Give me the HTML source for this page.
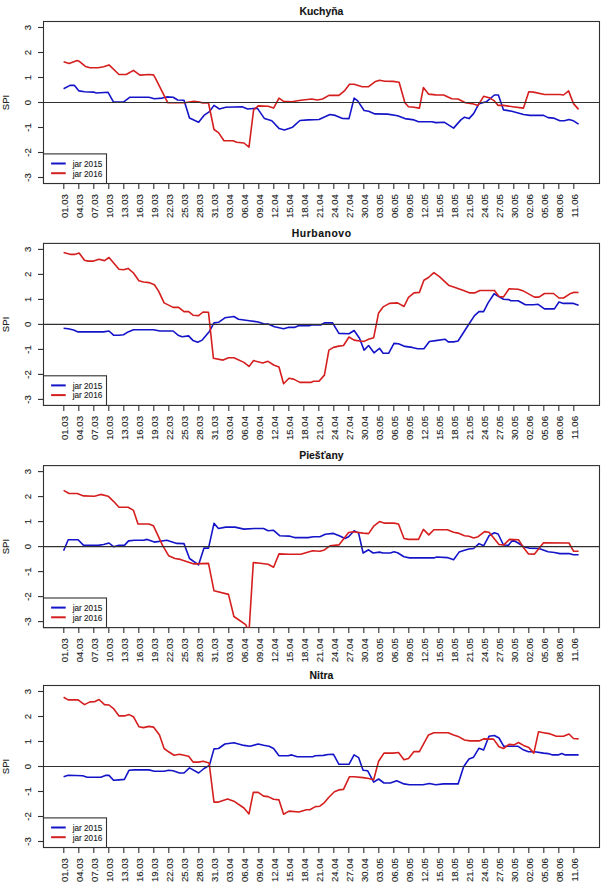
<!DOCTYPE html>
<html><head><meta charset="utf-8"><style>
html,body{margin:0;padding:0;background:#fff;width:607px;height:892px;overflow:hidden}
svg{display:block}
text{font-family:"Liberation Sans",sans-serif;fill:#222;stroke:#222;stroke-width:0.12px}
.t{font-size:10.4px;font-weight:bold;text-anchor:middle;fill:#111}
.a{font-size:9.6px}
.l{font-size:8.2px}
</style></head><body>
<svg width="607" height="892" viewBox="0 0 607 892"><rect width="607" height="892" fill="#fff"/><g><text x="321.4" y="14.5" class="t">Kuchyňa</text><rect x="43.5" y="21.5" width="556.0" height="162" fill="none" stroke="#303030" stroke-width="1.1"/><line x1="38" y1="27.5" x2="43.5" y2="27.5" stroke="#303030" stroke-width="1.1"/><text transform="translate(31.3,27.5) rotate(-90)" class="a" text-anchor="middle">3</text><line x1="38" y1="52.5" x2="43.5" y2="52.5" stroke="#303030" stroke-width="1.1"/><text transform="translate(31.3,52.5) rotate(-90)" class="a" text-anchor="middle">2</text><line x1="38" y1="77.5" x2="43.5" y2="77.5" stroke="#303030" stroke-width="1.1"/><text transform="translate(31.3,77.5) rotate(-90)" class="a" text-anchor="middle">1</text><line x1="38" y1="102.5" x2="43.5" y2="102.5" stroke="#303030" stroke-width="1.1"/><text transform="translate(31.3,102.5) rotate(-90)" class="a" text-anchor="middle">0</text><line x1="38" y1="127.5" x2="43.5" y2="127.5" stroke="#303030" stroke-width="1.1"/><text transform="translate(31.3,127.5) rotate(-90)" class="a" text-anchor="middle">-1</text><line x1="38" y1="152.5" x2="43.5" y2="152.5" stroke="#303030" stroke-width="1.1"/><text transform="translate(31.3,152.5) rotate(-90)" class="a" text-anchor="middle">-2</text><line x1="38" y1="177.5" x2="43.5" y2="177.5" stroke="#303030" stroke-width="1.1"/><text transform="translate(31.3,177.5) rotate(-90)" class="a" text-anchor="middle">-3</text><text transform="translate(9.2,102.5) rotate(-90)" class="a" text-anchor="middle">SPI</text><line x1="63.8" y1="183.5" x2="63.8" y2="189.0" stroke="#303030" stroke-width="1.1"/><text transform="translate(68.1,194.1) rotate(-90)" class="a" text-anchor="end">01.03</text><line x1="78.8" y1="183.5" x2="78.8" y2="189.0" stroke="#303030" stroke-width="1.1"/><text transform="translate(83.1,194.1) rotate(-90)" class="a" text-anchor="end">04.03</text><line x1="93.8" y1="183.5" x2="93.8" y2="189.0" stroke="#303030" stroke-width="1.1"/><text transform="translate(98.1,194.1) rotate(-90)" class="a" text-anchor="end">07.03</text><line x1="108.8" y1="183.5" x2="108.8" y2="189.0" stroke="#303030" stroke-width="1.1"/><text transform="translate(113.1,194.1) rotate(-90)" class="a" text-anchor="end">10.03</text><line x1="123.8" y1="183.5" x2="123.8" y2="189.0" stroke="#303030" stroke-width="1.1"/><text transform="translate(128.1,194.1) rotate(-90)" class="a" text-anchor="end">13.03</text><line x1="138.8" y1="183.5" x2="138.8" y2="189.0" stroke="#303030" stroke-width="1.1"/><text transform="translate(143.1,194.1) rotate(-90)" class="a" text-anchor="end">16.03</text><line x1="153.8" y1="183.5" x2="153.8" y2="189.0" stroke="#303030" stroke-width="1.1"/><text transform="translate(158.1,194.1) rotate(-90)" class="a" text-anchor="end">19.03</text><line x1="168.8" y1="183.5" x2="168.8" y2="189.0" stroke="#303030" stroke-width="1.1"/><text transform="translate(173.1,194.1) rotate(-90)" class="a" text-anchor="end">22.03</text><line x1="183.8" y1="183.5" x2="183.8" y2="189.0" stroke="#303030" stroke-width="1.1"/><text transform="translate(188.1,194.1) rotate(-90)" class="a" text-anchor="end">25.03</text><line x1="198.8" y1="183.5" x2="198.8" y2="189.0" stroke="#303030" stroke-width="1.1"/><text transform="translate(203.1,194.1) rotate(-90)" class="a" text-anchor="end">28.03</text><line x1="213.8" y1="183.5" x2="213.8" y2="189.0" stroke="#303030" stroke-width="1.1"/><text transform="translate(218.1,194.1) rotate(-90)" class="a" text-anchor="end">31.03</text><line x1="228.8" y1="183.5" x2="228.8" y2="189.0" stroke="#303030" stroke-width="1.1"/><text transform="translate(233.1,194.1) rotate(-90)" class="a" text-anchor="end">03.04</text><line x1="243.8" y1="183.5" x2="243.8" y2="189.0" stroke="#303030" stroke-width="1.1"/><text transform="translate(248.1,194.1) rotate(-90)" class="a" text-anchor="end">06.04</text><line x1="258.8" y1="183.5" x2="258.8" y2="189.0" stroke="#303030" stroke-width="1.1"/><text transform="translate(263.1,194.1) rotate(-90)" class="a" text-anchor="end">09.04</text><line x1="273.8" y1="183.5" x2="273.8" y2="189.0" stroke="#303030" stroke-width="1.1"/><text transform="translate(278.1,194.1) rotate(-90)" class="a" text-anchor="end">12.04</text><line x1="288.8" y1="183.5" x2="288.8" y2="189.0" stroke="#303030" stroke-width="1.1"/><text transform="translate(293.1,194.1) rotate(-90)" class="a" text-anchor="end">15.04</text><line x1="303.8" y1="183.5" x2="303.8" y2="189.0" stroke="#303030" stroke-width="1.1"/><text transform="translate(308.1,194.1) rotate(-90)" class="a" text-anchor="end">18.04</text><line x1="318.8" y1="183.5" x2="318.8" y2="189.0" stroke="#303030" stroke-width="1.1"/><text transform="translate(323.1,194.1) rotate(-90)" class="a" text-anchor="end">21.04</text><line x1="333.8" y1="183.5" x2="333.8" y2="189.0" stroke="#303030" stroke-width="1.1"/><text transform="translate(338.1,194.1) rotate(-90)" class="a" text-anchor="end">24.04</text><line x1="348.8" y1="183.5" x2="348.8" y2="189.0" stroke="#303030" stroke-width="1.1"/><text transform="translate(353.1,194.1) rotate(-90)" class="a" text-anchor="end">27.04</text><line x1="363.8" y1="183.5" x2="363.8" y2="189.0" stroke="#303030" stroke-width="1.1"/><text transform="translate(368.1,194.1) rotate(-90)" class="a" text-anchor="end">30.04</text><line x1="378.8" y1="183.5" x2="378.8" y2="189.0" stroke="#303030" stroke-width="1.1"/><text transform="translate(383.1,194.1) rotate(-90)" class="a" text-anchor="end">03.05</text><line x1="393.8" y1="183.5" x2="393.8" y2="189.0" stroke="#303030" stroke-width="1.1"/><text transform="translate(398.1,194.1) rotate(-90)" class="a" text-anchor="end">06.05</text><line x1="408.8" y1="183.5" x2="408.8" y2="189.0" stroke="#303030" stroke-width="1.1"/><text transform="translate(413.1,194.1) rotate(-90)" class="a" text-anchor="end">09.05</text><line x1="423.8" y1="183.5" x2="423.8" y2="189.0" stroke="#303030" stroke-width="1.1"/><text transform="translate(428.1,194.1) rotate(-90)" class="a" text-anchor="end">12.05</text><line x1="438.8" y1="183.5" x2="438.8" y2="189.0" stroke="#303030" stroke-width="1.1"/><text transform="translate(443.1,194.1) rotate(-90)" class="a" text-anchor="end">15.05</text><line x1="453.8" y1="183.5" x2="453.8" y2="189.0" stroke="#303030" stroke-width="1.1"/><text transform="translate(458.1,194.1) rotate(-90)" class="a" text-anchor="end">18.05</text><line x1="468.8" y1="183.5" x2="468.8" y2="189.0" stroke="#303030" stroke-width="1.1"/><text transform="translate(473.1,194.1) rotate(-90)" class="a" text-anchor="end">21.05</text><line x1="483.8" y1="183.5" x2="483.8" y2="189.0" stroke="#303030" stroke-width="1.1"/><text transform="translate(488.1,194.1) rotate(-90)" class="a" text-anchor="end">24.05</text><line x1="498.8" y1="183.5" x2="498.8" y2="189.0" stroke="#303030" stroke-width="1.1"/><text transform="translate(503.1,194.1) rotate(-90)" class="a" text-anchor="end">27.05</text><line x1="513.8" y1="183.5" x2="513.8" y2="189.0" stroke="#303030" stroke-width="1.1"/><text transform="translate(518.1,194.1) rotate(-90)" class="a" text-anchor="end">30.05</text><line x1="528.8" y1="183.5" x2="528.8" y2="189.0" stroke="#303030" stroke-width="1.1"/><text transform="translate(533.1,194.1) rotate(-90)" class="a" text-anchor="end">02.06</text><line x1="543.8" y1="183.5" x2="543.8" y2="189.0" stroke="#303030" stroke-width="1.1"/><text transform="translate(548.1,194.1) rotate(-90)" class="a" text-anchor="end">05.06</text><line x1="558.8" y1="183.5" x2="558.8" y2="189.0" stroke="#303030" stroke-width="1.1"/><text transform="translate(563.1,194.1) rotate(-90)" class="a" text-anchor="end">08.06</text><line x1="573.8" y1="183.5" x2="573.8" y2="189.0" stroke="#303030" stroke-width="1.1"/><text transform="translate(578.1,194.1) rotate(-90)" class="a" text-anchor="end">11.06</text><clipPath id="c0"><rect x="43.5" y="21.5" width="556.0" height="162"/></clipPath><polyline clip-path="url(#c0)" points="63.6,88.7 70.0,85.4 74.5,85.4 79.0,90.9 84.5,91.8 93.6,92.1 96.3,93.0 108.1,92.3 113.5,102.1 123.5,102.1 129.9,97.2 148.9,97.2 154.4,98.7 162.3,98.1 166.8,96.9 173.1,97.2 177.7,100.0 184.0,100.3 189.5,118.1 198.6,122.3 204.0,115.4 209.4,111.7 214.0,105.4 219.4,109.0 225.8,107.2 242.1,106.8 247.6,109.0 257.3,108.1 264.5,118.6 271.8,120.8 279.0,128.4 284.5,129.9 292.6,127.2 299.9,120.5 308.1,119.9 319.0,119.5 329.9,114.5 335.3,115.4 342.6,118.5 349.0,118.6 354.1,98.1 357.7,100.9 364.1,110.5 368.6,111.2 374.9,113.9 387.6,114.1 397.6,115.7 404.9,118.6 414.0,119.9 418.5,121.7 432.1,121.7 435.7,122.6 444.5,122.3 453.6,128.1 460.9,119.9 464.5,117.2 469.0,118.6 473.6,113.6 479.0,103.6 486.3,101.8 494.4,95.0 498.4,95.0 503.5,109.9 511.8,111.2 523.6,114.5 529.9,115.4 543.6,115.4 548.1,117.6 553.5,118.1 559.9,120.8 564.4,120.8 569.0,119.5 573.5,120.8 578.6,124.1" fill="none" stroke="#1414c8" stroke-width="1.6" stroke-linejoin="round"/><polyline clip-path="url(#c0)" points="63.6,61.8 69.1,63.6 77.2,60.6 79.0,61.2 85.4,66.4 90.0,67.8 98.1,67.8 103.6,66.7 109.0,64.9 119.0,74.5 126.2,74.5 133.5,70.4 139.9,75.1 148.9,74.5 153.5,74.9 155.0,77.3 167.7,102.7 185.0,102.7 194.0,101.2 199.5,102.1 203.1,103.0 208.5,103.0 214.0,129.5 218.5,132.6 224.0,140.8 233.0,140.8 236.7,142.2 243.9,143.0 249.0,147.1 253.6,109.9 258.2,105.9 268.1,106.3 273.6,108.1 279.0,98.1 283.6,101.4 291.7,101.8 300.8,100.3 311.7,99.0 317.2,100.0 322.6,99.0 328.9,95.4 338.9,95.4 344.4,90.9 349.5,84.3 354.1,84.2 362.2,86.7 368.6,86.7 374.9,81.8 379.5,80.3 384.9,81.3 393.1,81.4 399.1,82.3 404.9,102.7 408.5,106.7 414.0,107.2 419.4,108.1 423.4,87.6 428.5,94.1 435.7,94.9 443.6,95.0 451.8,98.7 458.1,99.0 465.4,102.7 471.8,103.6 478.1,105.4 483.6,96.3 489.9,98.1 494.4,100.9 498.1,105.4 503.5,105.4 512.6,106.7 523.5,108.1 528.8,91.8 533.5,92.1 544.5,94.5 559.9,94.5 563.5,95.0 568.6,90.9 573.5,103.6 578.6,109.4" fill="none" stroke="#d51e1e" stroke-width="1.6" stroke-linejoin="round"/><line x1="43.5" y1="102.5" x2="599.5" y2="102.5" stroke="#303030" stroke-width="1.1"/><rect x="43.5" y="153.9" width="63" height="29.6" fill="#fff" stroke="#303030" stroke-width="1.1"/><line x1="51.1" y1="163.5" x2="65.7" y2="163.5" stroke="#1414c8" stroke-width="2"/><line x1="51.1" y1="173.2" x2="65.7" y2="173.2" stroke="#d51e1e" stroke-width="2"/><text x="72.7" y="166.8" class="l">jar 2015</text><text x="72.7" y="176.5" class="l">jar 2016</text></g><g><text x="321.66999999999996" y="237.0" class="t" letter-spacing="0.55">Hurbanovo</text><rect x="43.5" y="243.4" width="556.0" height="162" fill="none" stroke="#303030" stroke-width="1.1"/><line x1="38" y1="249.4" x2="43.5" y2="249.4" stroke="#303030" stroke-width="1.1"/><text transform="translate(31.3,249.4) rotate(-90)" class="a" text-anchor="middle">3</text><line x1="38" y1="274.4" x2="43.5" y2="274.4" stroke="#303030" stroke-width="1.1"/><text transform="translate(31.3,274.4) rotate(-90)" class="a" text-anchor="middle">2</text><line x1="38" y1="299.4" x2="43.5" y2="299.4" stroke="#303030" stroke-width="1.1"/><text transform="translate(31.3,299.4) rotate(-90)" class="a" text-anchor="middle">1</text><line x1="38" y1="324.4" x2="43.5" y2="324.4" stroke="#303030" stroke-width="1.1"/><text transform="translate(31.3,324.4) rotate(-90)" class="a" text-anchor="middle">0</text><line x1="38" y1="349.4" x2="43.5" y2="349.4" stroke="#303030" stroke-width="1.1"/><text transform="translate(31.3,349.4) rotate(-90)" class="a" text-anchor="middle">-1</text><line x1="38" y1="374.4" x2="43.5" y2="374.4" stroke="#303030" stroke-width="1.1"/><text transform="translate(31.3,374.4) rotate(-90)" class="a" text-anchor="middle">-2</text><line x1="38" y1="399.4" x2="43.5" y2="399.4" stroke="#303030" stroke-width="1.1"/><text transform="translate(31.3,399.4) rotate(-90)" class="a" text-anchor="middle">-3</text><text transform="translate(9.2,324.4) rotate(-90)" class="a" text-anchor="middle">SPI</text><line x1="63.8" y1="405.4" x2="63.8" y2="410.9" stroke="#303030" stroke-width="1.1"/><text transform="translate(68.1,416.0) rotate(-90)" class="a" text-anchor="end">01.03</text><line x1="78.8" y1="405.4" x2="78.8" y2="410.9" stroke="#303030" stroke-width="1.1"/><text transform="translate(83.1,416.0) rotate(-90)" class="a" text-anchor="end">04.03</text><line x1="93.8" y1="405.4" x2="93.8" y2="410.9" stroke="#303030" stroke-width="1.1"/><text transform="translate(98.1,416.0) rotate(-90)" class="a" text-anchor="end">07.03</text><line x1="108.8" y1="405.4" x2="108.8" y2="410.9" stroke="#303030" stroke-width="1.1"/><text transform="translate(113.1,416.0) rotate(-90)" class="a" text-anchor="end">10.03</text><line x1="123.8" y1="405.4" x2="123.8" y2="410.9" stroke="#303030" stroke-width="1.1"/><text transform="translate(128.1,416.0) rotate(-90)" class="a" text-anchor="end">13.03</text><line x1="138.8" y1="405.4" x2="138.8" y2="410.9" stroke="#303030" stroke-width="1.1"/><text transform="translate(143.1,416.0) rotate(-90)" class="a" text-anchor="end">16.03</text><line x1="153.8" y1="405.4" x2="153.8" y2="410.9" stroke="#303030" stroke-width="1.1"/><text transform="translate(158.1,416.0) rotate(-90)" class="a" text-anchor="end">19.03</text><line x1="168.8" y1="405.4" x2="168.8" y2="410.9" stroke="#303030" stroke-width="1.1"/><text transform="translate(173.1,416.0) rotate(-90)" class="a" text-anchor="end">22.03</text><line x1="183.8" y1="405.4" x2="183.8" y2="410.9" stroke="#303030" stroke-width="1.1"/><text transform="translate(188.1,416.0) rotate(-90)" class="a" text-anchor="end">25.03</text><line x1="198.8" y1="405.4" x2="198.8" y2="410.9" stroke="#303030" stroke-width="1.1"/><text transform="translate(203.1,416.0) rotate(-90)" class="a" text-anchor="end">28.03</text><line x1="213.8" y1="405.4" x2="213.8" y2="410.9" stroke="#303030" stroke-width="1.1"/><text transform="translate(218.1,416.0) rotate(-90)" class="a" text-anchor="end">31.03</text><line x1="228.8" y1="405.4" x2="228.8" y2="410.9" stroke="#303030" stroke-width="1.1"/><text transform="translate(233.1,416.0) rotate(-90)" class="a" text-anchor="end">03.04</text><line x1="243.8" y1="405.4" x2="243.8" y2="410.9" stroke="#303030" stroke-width="1.1"/><text transform="translate(248.1,416.0) rotate(-90)" class="a" text-anchor="end">06.04</text><line x1="258.8" y1="405.4" x2="258.8" y2="410.9" stroke="#303030" stroke-width="1.1"/><text transform="translate(263.1,416.0) rotate(-90)" class="a" text-anchor="end">09.04</text><line x1="273.8" y1="405.4" x2="273.8" y2="410.9" stroke="#303030" stroke-width="1.1"/><text transform="translate(278.1,416.0) rotate(-90)" class="a" text-anchor="end">12.04</text><line x1="288.8" y1="405.4" x2="288.8" y2="410.9" stroke="#303030" stroke-width="1.1"/><text transform="translate(293.1,416.0) rotate(-90)" class="a" text-anchor="end">15.04</text><line x1="303.8" y1="405.4" x2="303.8" y2="410.9" stroke="#303030" stroke-width="1.1"/><text transform="translate(308.1,416.0) rotate(-90)" class="a" text-anchor="end">18.04</text><line x1="318.8" y1="405.4" x2="318.8" y2="410.9" stroke="#303030" stroke-width="1.1"/><text transform="translate(323.1,416.0) rotate(-90)" class="a" text-anchor="end">21.04</text><line x1="333.8" y1="405.4" x2="333.8" y2="410.9" stroke="#303030" stroke-width="1.1"/><text transform="translate(338.1,416.0) rotate(-90)" class="a" text-anchor="end">24.04</text><line x1="348.8" y1="405.4" x2="348.8" y2="410.9" stroke="#303030" stroke-width="1.1"/><text transform="translate(353.1,416.0) rotate(-90)" class="a" text-anchor="end">27.04</text><line x1="363.8" y1="405.4" x2="363.8" y2="410.9" stroke="#303030" stroke-width="1.1"/><text transform="translate(368.1,416.0) rotate(-90)" class="a" text-anchor="end">30.04</text><line x1="378.8" y1="405.4" x2="378.8" y2="410.9" stroke="#303030" stroke-width="1.1"/><text transform="translate(383.1,416.0) rotate(-90)" class="a" text-anchor="end">03.05</text><line x1="393.8" y1="405.4" x2="393.8" y2="410.9" stroke="#303030" stroke-width="1.1"/><text transform="translate(398.1,416.0) rotate(-90)" class="a" text-anchor="end">06.05</text><line x1="408.8" y1="405.4" x2="408.8" y2="410.9" stroke="#303030" stroke-width="1.1"/><text transform="translate(413.1,416.0) rotate(-90)" class="a" text-anchor="end">09.05</text><line x1="423.8" y1="405.4" x2="423.8" y2="410.9" stroke="#303030" stroke-width="1.1"/><text transform="translate(428.1,416.0) rotate(-90)" class="a" text-anchor="end">12.05</text><line x1="438.8" y1="405.4" x2="438.8" y2="410.9" stroke="#303030" stroke-width="1.1"/><text transform="translate(443.1,416.0) rotate(-90)" class="a" text-anchor="end">15.05</text><line x1="453.8" y1="405.4" x2="453.8" y2="410.9" stroke="#303030" stroke-width="1.1"/><text transform="translate(458.1,416.0) rotate(-90)" class="a" text-anchor="end">18.05</text><line x1="468.8" y1="405.4" x2="468.8" y2="410.9" stroke="#303030" stroke-width="1.1"/><text transform="translate(473.1,416.0) rotate(-90)" class="a" text-anchor="end">21.05</text><line x1="483.8" y1="405.4" x2="483.8" y2="410.9" stroke="#303030" stroke-width="1.1"/><text transform="translate(488.1,416.0) rotate(-90)" class="a" text-anchor="end">24.05</text><line x1="498.8" y1="405.4" x2="498.8" y2="410.9" stroke="#303030" stroke-width="1.1"/><text transform="translate(503.1,416.0) rotate(-90)" class="a" text-anchor="end">27.05</text><line x1="513.8" y1="405.4" x2="513.8" y2="410.9" stroke="#303030" stroke-width="1.1"/><text transform="translate(518.1,416.0) rotate(-90)" class="a" text-anchor="end">30.05</text><line x1="528.8" y1="405.4" x2="528.8" y2="410.9" stroke="#303030" stroke-width="1.1"/><text transform="translate(533.1,416.0) rotate(-90)" class="a" text-anchor="end">02.06</text><line x1="543.8" y1="405.4" x2="543.8" y2="410.9" stroke="#303030" stroke-width="1.1"/><text transform="translate(548.1,416.0) rotate(-90)" class="a" text-anchor="end">05.06</text><line x1="558.8" y1="405.4" x2="558.8" y2="410.9" stroke="#303030" stroke-width="1.1"/><text transform="translate(563.1,416.0) rotate(-90)" class="a" text-anchor="end">08.06</text><line x1="573.8" y1="405.4" x2="573.8" y2="410.9" stroke="#303030" stroke-width="1.1"/><text transform="translate(578.1,416.0) rotate(-90)" class="a" text-anchor="end">11.06</text><clipPath id="c1"><rect x="43.5" y="243.4" width="556.0" height="162"/></clipPath><polyline clip-path="url(#c1)" points="63.6,328.3 68.2,328.7 73.6,330.1 78.1,331.9 103.6,331.9 109.0,331.0 113.5,335.2 119.0,335.2 123.5,334.7 128.1,331.9 133.5,329.8 153.5,329.8 160.0,331.0 173.1,331.0 178.6,335.6 182.2,336.8 188.6,335.9 193.1,340.6 197.6,342.3 202.2,340.1 209.4,331.4 214.0,322.9 218.5,322.3 224.9,317.8 233.9,316.5 238.5,319.2 249.4,320.7 258.2,322.0 263.6,323.8 268.1,324.1 274.5,326.8 283.6,328.7 288.1,327.4 294.5,327.4 299.0,325.6 309.0,325.6 312.6,324.7 320.8,325.0 324.4,322.9 332.6,322.9 338.9,333.4 349.0,333.7 354.1,330.5 359.5,338.3 364.1,350.1 368.6,345.5 374.0,352.8 379.5,348.3 383.1,353.3 388.6,353.3 394.0,343.4 398.5,343.7 404.9,346.4 412.2,347.4 417.6,348.8 423.9,348.8 429.4,341.5 435.7,340.6 445.0,339.2 448.2,341.9 453.6,341.9 458.1,341.0 467.2,326.8 474.5,315.6 479.0,311.6 483.6,311.6 488.1,302.9 494.1,293.8 503.5,299.3 509.0,299.6 510.8,300.7 518.1,300.7 525.4,304.7 533.6,304.7 538.1,304.3 544.5,308.9 554.4,308.9 559.0,302.0 563.5,303.4 573.5,303.4 578.6,305.3" fill="none" stroke="#1414c8" stroke-width="1.6" stroke-linejoin="round"/><polyline clip-path="url(#c1)" points="63.6,252.4 70.9,254.4 74.5,254.4 79.1,253.0 84.5,260.2 88.1,261.1 93.6,261.1 99.0,259.3 104.5,260.6 109.0,257.5 119.0,269.3 123.5,269.7 128.1,268.4 133.5,273.0 138.9,280.8 143.5,282.0 148.9,282.6 154.4,284.7 158.6,291.1 164.1,302.9 173.1,307.4 178.6,307.4 184.0,311.6 188.6,311.6 193.1,315.2 198.6,315.6 203.1,312.0 208.5,312.3 213.4,358.2 223.1,360.1 228.5,357.7 233.9,357.7 243.9,362.4 249.0,366.4 253.6,360.6 262.7,363.1 268.1,361.3 273.6,365.0 279.0,367.0 283.6,383.7 289.0,378.2 293.6,379.1 299.9,382.4 310.8,382.4 313.5,381.3 319.0,381.3 324.4,375.1 328.9,350.1 333.5,347.4 338.9,346.1 343.5,345.5 349.0,337.0 354.1,340.1 359.5,341.0 364.1,341.4 368.6,339.2 373.7,337.7 378.6,312.9 383.1,306.9 389.5,303.4 397.6,302.9 404.0,306.5 408.5,297.4 414.0,292.9 419.4,292.4 423.9,280.2 428.5,277.5 433.9,272.6 439.4,276.6 449.1,285.6 453.6,286.9 463.6,290.5 469.9,292.9 474.5,292.9 479.9,290.5 494.4,290.5 499.0,296.5 503.5,296.9 509.1,288.7 518.1,289.3 523.6,291.1 534.5,297.1 539.0,297.1 544.5,293.5 553.5,293.5 559.0,298.0 563.5,298.0 569.9,293.8 573.5,292.4 578.6,292.5" fill="none" stroke="#d51e1e" stroke-width="1.6" stroke-linejoin="round"/><line x1="43.5" y1="324.4" x2="599.5" y2="324.4" stroke="#303030" stroke-width="1.1"/><rect x="43.5" y="375.8" width="63" height="29.6" fill="#fff" stroke="#303030" stroke-width="1.1"/><line x1="51.1" y1="385.4" x2="65.7" y2="385.4" stroke="#1414c8" stroke-width="2"/><line x1="51.1" y1="395.1" x2="65.7" y2="395.1" stroke="#d51e1e" stroke-width="2"/><text x="72.7" y="388.7" class="l">jar 2015</text><text x="72.7" y="398.4" class="l">jar 2016</text></g><g><text x="321.4" y="458.5" class="t">Piešťany</text><rect x="43.5" y="465.6" width="556.0" height="162" fill="none" stroke="#303030" stroke-width="1.1"/><line x1="38" y1="471.6" x2="43.5" y2="471.6" stroke="#303030" stroke-width="1.1"/><text transform="translate(31.3,471.6) rotate(-90)" class="a" text-anchor="middle">3</text><line x1="38" y1="496.6" x2="43.5" y2="496.6" stroke="#303030" stroke-width="1.1"/><text transform="translate(31.3,496.6) rotate(-90)" class="a" text-anchor="middle">2</text><line x1="38" y1="521.6" x2="43.5" y2="521.6" stroke="#303030" stroke-width="1.1"/><text transform="translate(31.3,521.6) rotate(-90)" class="a" text-anchor="middle">1</text><line x1="38" y1="546.6" x2="43.5" y2="546.6" stroke="#303030" stroke-width="1.1"/><text transform="translate(31.3,546.6) rotate(-90)" class="a" text-anchor="middle">0</text><line x1="38" y1="571.6" x2="43.5" y2="571.6" stroke="#303030" stroke-width="1.1"/><text transform="translate(31.3,571.6) rotate(-90)" class="a" text-anchor="middle">-1</text><line x1="38" y1="596.6" x2="43.5" y2="596.6" stroke="#303030" stroke-width="1.1"/><text transform="translate(31.3,596.6) rotate(-90)" class="a" text-anchor="middle">-2</text><line x1="38" y1="621.6" x2="43.5" y2="621.6" stroke="#303030" stroke-width="1.1"/><text transform="translate(31.3,621.6) rotate(-90)" class="a" text-anchor="middle">-3</text><text transform="translate(9.2,546.6) rotate(-90)" class="a" text-anchor="middle">SPI</text><line x1="63.8" y1="627.6" x2="63.8" y2="633.1" stroke="#303030" stroke-width="1.1"/><text transform="translate(68.1,638.2) rotate(-90)" class="a" text-anchor="end">01.03</text><line x1="78.8" y1="627.6" x2="78.8" y2="633.1" stroke="#303030" stroke-width="1.1"/><text transform="translate(83.1,638.2) rotate(-90)" class="a" text-anchor="end">04.03</text><line x1="93.8" y1="627.6" x2="93.8" y2="633.1" stroke="#303030" stroke-width="1.1"/><text transform="translate(98.1,638.2) rotate(-90)" class="a" text-anchor="end">07.03</text><line x1="108.8" y1="627.6" x2="108.8" y2="633.1" stroke="#303030" stroke-width="1.1"/><text transform="translate(113.1,638.2) rotate(-90)" class="a" text-anchor="end">10.03</text><line x1="123.8" y1="627.6" x2="123.8" y2="633.1" stroke="#303030" stroke-width="1.1"/><text transform="translate(128.1,638.2) rotate(-90)" class="a" text-anchor="end">13.03</text><line x1="138.8" y1="627.6" x2="138.8" y2="633.1" stroke="#303030" stroke-width="1.1"/><text transform="translate(143.1,638.2) rotate(-90)" class="a" text-anchor="end">16.03</text><line x1="153.8" y1="627.6" x2="153.8" y2="633.1" stroke="#303030" stroke-width="1.1"/><text transform="translate(158.1,638.2) rotate(-90)" class="a" text-anchor="end">19.03</text><line x1="168.8" y1="627.6" x2="168.8" y2="633.1" stroke="#303030" stroke-width="1.1"/><text transform="translate(173.1,638.2) rotate(-90)" class="a" text-anchor="end">22.03</text><line x1="183.8" y1="627.6" x2="183.8" y2="633.1" stroke="#303030" stroke-width="1.1"/><text transform="translate(188.1,638.2) rotate(-90)" class="a" text-anchor="end">25.03</text><line x1="198.8" y1="627.6" x2="198.8" y2="633.1" stroke="#303030" stroke-width="1.1"/><text transform="translate(203.1,638.2) rotate(-90)" class="a" text-anchor="end">28.03</text><line x1="213.8" y1="627.6" x2="213.8" y2="633.1" stroke="#303030" stroke-width="1.1"/><text transform="translate(218.1,638.2) rotate(-90)" class="a" text-anchor="end">31.03</text><line x1="228.8" y1="627.6" x2="228.8" y2="633.1" stroke="#303030" stroke-width="1.1"/><text transform="translate(233.1,638.2) rotate(-90)" class="a" text-anchor="end">03.04</text><line x1="243.8" y1="627.6" x2="243.8" y2="633.1" stroke="#303030" stroke-width="1.1"/><text transform="translate(248.1,638.2) rotate(-90)" class="a" text-anchor="end">06.04</text><line x1="258.8" y1="627.6" x2="258.8" y2="633.1" stroke="#303030" stroke-width="1.1"/><text transform="translate(263.1,638.2) rotate(-90)" class="a" text-anchor="end">09.04</text><line x1="273.8" y1="627.6" x2="273.8" y2="633.1" stroke="#303030" stroke-width="1.1"/><text transform="translate(278.1,638.2) rotate(-90)" class="a" text-anchor="end">12.04</text><line x1="288.8" y1="627.6" x2="288.8" y2="633.1" stroke="#303030" stroke-width="1.1"/><text transform="translate(293.1,638.2) rotate(-90)" class="a" text-anchor="end">15.04</text><line x1="303.8" y1="627.6" x2="303.8" y2="633.1" stroke="#303030" stroke-width="1.1"/><text transform="translate(308.1,638.2) rotate(-90)" class="a" text-anchor="end">18.04</text><line x1="318.8" y1="627.6" x2="318.8" y2="633.1" stroke="#303030" stroke-width="1.1"/><text transform="translate(323.1,638.2) rotate(-90)" class="a" text-anchor="end">21.04</text><line x1="333.8" y1="627.6" x2="333.8" y2="633.1" stroke="#303030" stroke-width="1.1"/><text transform="translate(338.1,638.2) rotate(-90)" class="a" text-anchor="end">24.04</text><line x1="348.8" y1="627.6" x2="348.8" y2="633.1" stroke="#303030" stroke-width="1.1"/><text transform="translate(353.1,638.2) rotate(-90)" class="a" text-anchor="end">27.04</text><line x1="363.8" y1="627.6" x2="363.8" y2="633.1" stroke="#303030" stroke-width="1.1"/><text transform="translate(368.1,638.2) rotate(-90)" class="a" text-anchor="end">30.04</text><line x1="378.8" y1="627.6" x2="378.8" y2="633.1" stroke="#303030" stroke-width="1.1"/><text transform="translate(383.1,638.2) rotate(-90)" class="a" text-anchor="end">03.05</text><line x1="393.8" y1="627.6" x2="393.8" y2="633.1" stroke="#303030" stroke-width="1.1"/><text transform="translate(398.1,638.2) rotate(-90)" class="a" text-anchor="end">06.05</text><line x1="408.8" y1="627.6" x2="408.8" y2="633.1" stroke="#303030" stroke-width="1.1"/><text transform="translate(413.1,638.2) rotate(-90)" class="a" text-anchor="end">09.05</text><line x1="423.8" y1="627.6" x2="423.8" y2="633.1" stroke="#303030" stroke-width="1.1"/><text transform="translate(428.1,638.2) rotate(-90)" class="a" text-anchor="end">12.05</text><line x1="438.8" y1="627.6" x2="438.8" y2="633.1" stroke="#303030" stroke-width="1.1"/><text transform="translate(443.1,638.2) rotate(-90)" class="a" text-anchor="end">15.05</text><line x1="453.8" y1="627.6" x2="453.8" y2="633.1" stroke="#303030" stroke-width="1.1"/><text transform="translate(458.1,638.2) rotate(-90)" class="a" text-anchor="end">18.05</text><line x1="468.8" y1="627.6" x2="468.8" y2="633.1" stroke="#303030" stroke-width="1.1"/><text transform="translate(473.1,638.2) rotate(-90)" class="a" text-anchor="end">21.05</text><line x1="483.8" y1="627.6" x2="483.8" y2="633.1" stroke="#303030" stroke-width="1.1"/><text transform="translate(488.1,638.2) rotate(-90)" class="a" text-anchor="end">24.05</text><line x1="498.8" y1="627.6" x2="498.8" y2="633.1" stroke="#303030" stroke-width="1.1"/><text transform="translate(503.1,638.2) rotate(-90)" class="a" text-anchor="end">27.05</text><line x1="513.8" y1="627.6" x2="513.8" y2="633.1" stroke="#303030" stroke-width="1.1"/><text transform="translate(518.1,638.2) rotate(-90)" class="a" text-anchor="end">30.05</text><line x1="528.8" y1="627.6" x2="528.8" y2="633.1" stroke="#303030" stroke-width="1.1"/><text transform="translate(533.1,638.2) rotate(-90)" class="a" text-anchor="end">02.06</text><line x1="543.8" y1="627.6" x2="543.8" y2="633.1" stroke="#303030" stroke-width="1.1"/><text transform="translate(548.1,638.2) rotate(-90)" class="a" text-anchor="end">05.06</text><line x1="558.8" y1="627.6" x2="558.8" y2="633.1" stroke="#303030" stroke-width="1.1"/><text transform="translate(563.1,638.2) rotate(-90)" class="a" text-anchor="end">08.06</text><line x1="573.8" y1="627.6" x2="573.8" y2="633.1" stroke="#303030" stroke-width="1.1"/><text transform="translate(578.1,638.2) rotate(-90)" class="a" text-anchor="end">11.06</text><clipPath id="c2"><rect x="43.5" y="465.6" width="556.0" height="162"/></clipPath><polyline clip-path="url(#c2)" points="63.6,550.8 68.2,539.8 78.1,539.8 83.6,545.4 98.1,545.4 103.6,544.5 109.0,543.0 113.5,546.7 119.0,545.4 124.4,545.4 128.6,540.9 134.4,540.3 143.5,540.3 147.1,539.4 154.4,542.1 166.8,540.3 176.8,543.4 184.0,543.6 189.5,558.5 198.6,564.8 204.0,548.1 208.5,548.1 214.0,523.4 218.5,528.5 225.8,527.1 234.9,527.1 243.9,529.1 254.5,528.5 263.6,528.5 268.1,530.7 273.6,530.3 279.9,535.8 289.0,536.1 294.5,537.6 308.1,537.6 313.5,536.7 319.9,536.7 325.3,534.3 333.5,533.4 339.8,536.1 345.0,538.5 348.6,536.7 354.1,530.7 358.6,533.1 363.1,553.0 368.6,549.8 373.1,553.0 379.5,552.1 383.1,553.0 390.4,553.0 394.0,551.8 397.6,552.7 404.0,556.7 409.4,557.9 433.9,557.9 436.7,557.0 447.3,557.6 453.6,559.7 459.1,552.1 464.5,550.3 469.0,549.0 473.6,548.5 479.0,543.6 483.6,545.8 489.0,535.8 494.4,532.7 498.1,534.0 503.5,545.0 508.4,545.3 512.7,540.0 518.1,543.0 523.6,546.7 529.0,548.1 539.0,548.5 548.1,551.8 554.4,552.5 559.9,553.6 569.0,553.6 573.5,554.8 578.6,554.8" fill="none" stroke="#1414c8" stroke-width="1.6" stroke-linejoin="round"/><polyline clip-path="url(#c2)" points="63.6,490.4 69.1,493.5 77.2,493.5 83.6,495.9 94.5,496.2 100.8,494.4 108.1,496.2 113.5,501.3 119.0,507.3 128.1,507.3 133.5,510.4 138.0,524.0 148.9,524.0 153.5,525.8 162.3,544.9 168.6,555.7 175.0,558.5 180.4,559.4 194.0,563.9 208.5,563.4 214.0,590.8 228.5,594.4 233.9,616.5 245.7,624.7 249.0,632.0 253.3,562.6 258.2,563.0 268.1,564.3 273.6,567.2 279.0,553.9 289.0,554.3 300.8,554.3 312.6,550.7 319.9,551.2 324.4,549.9 329.9,545.8 338.9,544.9 348.6,532.5 353.2,531.8 363.1,533.1 368.6,533.6 374.0,525.8 379.5,521.6 384.0,523.1 394.0,523.1 398.5,524.0 404.0,538.5 408.5,539.4 418.5,539.4 423.4,529.4 428.8,534.9 433.9,529.8 447.3,529.8 453.6,532.2 458.1,533.1 464.5,535.8 469.0,536.3 473.6,538.0 478.1,536.7 484.5,531.6 489.0,532.2 499.0,544.5 503.8,544.9 509.5,539.4 518.5,539.8 523.5,547.6 528.5,553.9 534.5,554.1 543.6,542.7 569.0,543.0 573.5,551.2 578.6,551.2" fill="none" stroke="#d51e1e" stroke-width="1.6" stroke-linejoin="round"/><line x1="43.5" y1="546.6" x2="599.5" y2="546.6" stroke="#303030" stroke-width="1.1"/><rect x="43.5" y="598.0" width="63" height="29.6" fill="#fff" stroke="#303030" stroke-width="1.1"/><line x1="51.1" y1="607.6" x2="65.7" y2="607.6" stroke="#1414c8" stroke-width="2"/><line x1="51.1" y1="617.3" x2="65.7" y2="617.3" stroke="#d51e1e" stroke-width="2"/><text x="72.7" y="610.9" class="l">jar 2015</text><text x="72.7" y="620.6" class="l">jar 2016</text></g><g><text x="321.4" y="679.0" class="t">Nitra</text><rect x="43.5" y="685.5" width="556.0" height="162" fill="none" stroke="#303030" stroke-width="1.1"/><line x1="38" y1="691.5" x2="43.5" y2="691.5" stroke="#303030" stroke-width="1.1"/><text transform="translate(31.3,691.5) rotate(-90)" class="a" text-anchor="middle">3</text><line x1="38" y1="716.5" x2="43.5" y2="716.5" stroke="#303030" stroke-width="1.1"/><text transform="translate(31.3,716.5) rotate(-90)" class="a" text-anchor="middle">2</text><line x1="38" y1="741.5" x2="43.5" y2="741.5" stroke="#303030" stroke-width="1.1"/><text transform="translate(31.3,741.5) rotate(-90)" class="a" text-anchor="middle">1</text><line x1="38" y1="766.5" x2="43.5" y2="766.5" stroke="#303030" stroke-width="1.1"/><text transform="translate(31.3,766.5) rotate(-90)" class="a" text-anchor="middle">0</text><line x1="38" y1="791.5" x2="43.5" y2="791.5" stroke="#303030" stroke-width="1.1"/><text transform="translate(31.3,791.5) rotate(-90)" class="a" text-anchor="middle">-1</text><line x1="38" y1="816.5" x2="43.5" y2="816.5" stroke="#303030" stroke-width="1.1"/><text transform="translate(31.3,816.5) rotate(-90)" class="a" text-anchor="middle">-2</text><line x1="38" y1="841.5" x2="43.5" y2="841.5" stroke="#303030" stroke-width="1.1"/><text transform="translate(31.3,841.5) rotate(-90)" class="a" text-anchor="middle">-3</text><text transform="translate(9.2,766.5) rotate(-90)" class="a" text-anchor="middle">SPI</text><line x1="63.8" y1="847.5" x2="63.8" y2="853.0" stroke="#303030" stroke-width="1.1"/><text transform="translate(68.1,858.1) rotate(-90)" class="a" text-anchor="end">01.03</text><line x1="78.8" y1="847.5" x2="78.8" y2="853.0" stroke="#303030" stroke-width="1.1"/><text transform="translate(83.1,858.1) rotate(-90)" class="a" text-anchor="end">04.03</text><line x1="93.8" y1="847.5" x2="93.8" y2="853.0" stroke="#303030" stroke-width="1.1"/><text transform="translate(98.1,858.1) rotate(-90)" class="a" text-anchor="end">07.03</text><line x1="108.8" y1="847.5" x2="108.8" y2="853.0" stroke="#303030" stroke-width="1.1"/><text transform="translate(113.1,858.1) rotate(-90)" class="a" text-anchor="end">10.03</text><line x1="123.8" y1="847.5" x2="123.8" y2="853.0" stroke="#303030" stroke-width="1.1"/><text transform="translate(128.1,858.1) rotate(-90)" class="a" text-anchor="end">13.03</text><line x1="138.8" y1="847.5" x2="138.8" y2="853.0" stroke="#303030" stroke-width="1.1"/><text transform="translate(143.1,858.1) rotate(-90)" class="a" text-anchor="end">16.03</text><line x1="153.8" y1="847.5" x2="153.8" y2="853.0" stroke="#303030" stroke-width="1.1"/><text transform="translate(158.1,858.1) rotate(-90)" class="a" text-anchor="end">19.03</text><line x1="168.8" y1="847.5" x2="168.8" y2="853.0" stroke="#303030" stroke-width="1.1"/><text transform="translate(173.1,858.1) rotate(-90)" class="a" text-anchor="end">22.03</text><line x1="183.8" y1="847.5" x2="183.8" y2="853.0" stroke="#303030" stroke-width="1.1"/><text transform="translate(188.1,858.1) rotate(-90)" class="a" text-anchor="end">25.03</text><line x1="198.8" y1="847.5" x2="198.8" y2="853.0" stroke="#303030" stroke-width="1.1"/><text transform="translate(203.1,858.1) rotate(-90)" class="a" text-anchor="end">28.03</text><line x1="213.8" y1="847.5" x2="213.8" y2="853.0" stroke="#303030" stroke-width="1.1"/><text transform="translate(218.1,858.1) rotate(-90)" class="a" text-anchor="end">31.03</text><line x1="228.8" y1="847.5" x2="228.8" y2="853.0" stroke="#303030" stroke-width="1.1"/><text transform="translate(233.1,858.1) rotate(-90)" class="a" text-anchor="end">03.04</text><line x1="243.8" y1="847.5" x2="243.8" y2="853.0" stroke="#303030" stroke-width="1.1"/><text transform="translate(248.1,858.1) rotate(-90)" class="a" text-anchor="end">06.04</text><line x1="258.8" y1="847.5" x2="258.8" y2="853.0" stroke="#303030" stroke-width="1.1"/><text transform="translate(263.1,858.1) rotate(-90)" class="a" text-anchor="end">09.04</text><line x1="273.8" y1="847.5" x2="273.8" y2="853.0" stroke="#303030" stroke-width="1.1"/><text transform="translate(278.1,858.1) rotate(-90)" class="a" text-anchor="end">12.04</text><line x1="288.8" y1="847.5" x2="288.8" y2="853.0" stroke="#303030" stroke-width="1.1"/><text transform="translate(293.1,858.1) rotate(-90)" class="a" text-anchor="end">15.04</text><line x1="303.8" y1="847.5" x2="303.8" y2="853.0" stroke="#303030" stroke-width="1.1"/><text transform="translate(308.1,858.1) rotate(-90)" class="a" text-anchor="end">18.04</text><line x1="318.8" y1="847.5" x2="318.8" y2="853.0" stroke="#303030" stroke-width="1.1"/><text transform="translate(323.1,858.1) rotate(-90)" class="a" text-anchor="end">21.04</text><line x1="333.8" y1="847.5" x2="333.8" y2="853.0" stroke="#303030" stroke-width="1.1"/><text transform="translate(338.1,858.1) rotate(-90)" class="a" text-anchor="end">24.04</text><line x1="348.8" y1="847.5" x2="348.8" y2="853.0" stroke="#303030" stroke-width="1.1"/><text transform="translate(353.1,858.1) rotate(-90)" class="a" text-anchor="end">27.04</text><line x1="363.8" y1="847.5" x2="363.8" y2="853.0" stroke="#303030" stroke-width="1.1"/><text transform="translate(368.1,858.1) rotate(-90)" class="a" text-anchor="end">30.04</text><line x1="378.8" y1="847.5" x2="378.8" y2="853.0" stroke="#303030" stroke-width="1.1"/><text transform="translate(383.1,858.1) rotate(-90)" class="a" text-anchor="end">03.05</text><line x1="393.8" y1="847.5" x2="393.8" y2="853.0" stroke="#303030" stroke-width="1.1"/><text transform="translate(398.1,858.1) rotate(-90)" class="a" text-anchor="end">06.05</text><line x1="408.8" y1="847.5" x2="408.8" y2="853.0" stroke="#303030" stroke-width="1.1"/><text transform="translate(413.1,858.1) rotate(-90)" class="a" text-anchor="end">09.05</text><line x1="423.8" y1="847.5" x2="423.8" y2="853.0" stroke="#303030" stroke-width="1.1"/><text transform="translate(428.1,858.1) rotate(-90)" class="a" text-anchor="end">12.05</text><line x1="438.8" y1="847.5" x2="438.8" y2="853.0" stroke="#303030" stroke-width="1.1"/><text transform="translate(443.1,858.1) rotate(-90)" class="a" text-anchor="end">15.05</text><line x1="453.8" y1="847.5" x2="453.8" y2="853.0" stroke="#303030" stroke-width="1.1"/><text transform="translate(458.1,858.1) rotate(-90)" class="a" text-anchor="end">18.05</text><line x1="468.8" y1="847.5" x2="468.8" y2="853.0" stroke="#303030" stroke-width="1.1"/><text transform="translate(473.1,858.1) rotate(-90)" class="a" text-anchor="end">21.05</text><line x1="483.8" y1="847.5" x2="483.8" y2="853.0" stroke="#303030" stroke-width="1.1"/><text transform="translate(488.1,858.1) rotate(-90)" class="a" text-anchor="end">24.05</text><line x1="498.8" y1="847.5" x2="498.8" y2="853.0" stroke="#303030" stroke-width="1.1"/><text transform="translate(503.1,858.1) rotate(-90)" class="a" text-anchor="end">27.05</text><line x1="513.8" y1="847.5" x2="513.8" y2="853.0" stroke="#303030" stroke-width="1.1"/><text transform="translate(518.1,858.1) rotate(-90)" class="a" text-anchor="end">30.05</text><line x1="528.8" y1="847.5" x2="528.8" y2="853.0" stroke="#303030" stroke-width="1.1"/><text transform="translate(533.1,858.1) rotate(-90)" class="a" text-anchor="end">02.06</text><line x1="543.8" y1="847.5" x2="543.8" y2="853.0" stroke="#303030" stroke-width="1.1"/><text transform="translate(548.1,858.1) rotate(-90)" class="a" text-anchor="end">05.06</text><line x1="558.8" y1="847.5" x2="558.8" y2="853.0" stroke="#303030" stroke-width="1.1"/><text transform="translate(563.1,858.1) rotate(-90)" class="a" text-anchor="end">08.06</text><line x1="573.8" y1="847.5" x2="573.8" y2="853.0" stroke="#303030" stroke-width="1.1"/><text transform="translate(578.1,858.1) rotate(-90)" class="a" text-anchor="end">11.06</text><clipPath id="c3"><rect x="43.5" y="685.5" width="556.0" height="162"/></clipPath><polyline clip-path="url(#c3)" points="63.6,776.7 68.2,775.2 82.7,775.7 87.2,777.2 100.8,777.2 105.4,775.4 109.0,775.4 113.5,780.3 119.0,779.9 124.4,779.4 129.0,770.3 134.4,769.9 148.9,769.9 154.4,771.2 164.1,771.2 168.6,770.3 173.1,770.8 179.5,773.0 184.0,773.0 189.5,767.9 198.6,773.0 204.0,768.5 209.4,765.4 214.0,748.9 218.5,748.5 224.9,744.0 233.9,742.7 243.9,745.4 250.0,746.2 258.2,744.0 263.6,745.3 269.1,746.3 273.6,748.5 279.0,755.8 288.1,755.8 291.7,754.9 297.2,756.7 312.6,756.7 315.3,755.8 323.5,755.4 328.0,754.5 333.5,754.3 338.9,764.3 349.0,764.3 354.1,754.9 358.6,757.6 363.1,770.3 367.7,770.8 373.7,782.1 378.6,779.0 384.0,783.0 390.4,783.0 396.7,780.8 404.0,783.9 409.4,784.8 423.0,784.8 429.4,783.5 435.7,784.8 443.6,783.9 458.1,783.9 463.6,766.7 469.0,759.0 473.6,757.2 479.0,748.2 483.6,750.0 489.0,736.2 494.4,735.5 499.0,738.0 503.8,746.3 518.1,746.3 523.8,750.1 528.5,751.8 534.5,751.7 543.6,753.1 548.1,753.6 552.6,754.9 558.1,754.9 561.7,753.6 565.3,754.9 578.6,754.9" fill="none" stroke="#1414c8" stroke-width="1.6" stroke-linejoin="round"/><polyline clip-path="url(#c3)" points="63.6,697.3 68.2,699.9 78.1,699.9 84.5,704.6 90.0,701.9 94.5,701.7 99.0,699.5 104.5,704.6 109.0,705.0 113.5,708.6 119.0,715.9 124.4,715.9 129.0,714.6 133.5,716.8 138.9,726.7 143.5,727.6 148.9,726.4 153.5,727.1 159.5,734.9 164.1,748.5 168.6,751.8 174.1,755.2 179.5,754.3 188.6,756.3 193.1,762.1 198.6,762.1 203.1,761.2 209.1,763.0 214.0,802.1 218.5,802.1 227.6,799.0 233.9,801.2 243.9,808.0 249.0,813.9 253.3,792.4 258.2,792.4 263.6,796.1 268.1,796.6 273.6,799.3 279.0,799.9 283.6,814.2 289.0,811.1 299.0,812.0 306.3,809.7 309.9,809.7 315.3,806.6 319.9,806.2 324.4,802.6 328.9,797.2 334.4,791.7 338.9,789.9 343.5,789.4 349.5,776.7 354.1,776.7 363.1,777.6 368.6,778.5 373.7,779.7 378.6,761.2 384.0,753.1 393.1,753.1 398.5,752.5 404.0,759.8 408.5,758.5 414.0,751.6 419.4,751.6 428.5,734.9 433.9,732.7 448.2,732.7 453.6,734.9 458.1,736.4 464.5,740.0 469.9,740.9 479.0,740.9 483.6,738.9 493.5,739.1 499.0,746.7 503.5,748.5 509.0,744.4 514.0,744.9 518.5,742.5 523.5,745.4 528.9,747.6 533.8,753.1 538.5,731.8 543.6,732.7 549.0,733.6 556.3,736.2 563.5,736.2 569.0,734.0 573.5,738.5 578.6,738.9" fill="none" stroke="#d51e1e" stroke-width="1.6" stroke-linejoin="round"/><line x1="43.5" y1="766.5" x2="599.5" y2="766.5" stroke="#303030" stroke-width="1.1"/><rect x="43.5" y="817.9" width="63" height="29.6" fill="#fff" stroke="#303030" stroke-width="1.1"/><line x1="51.1" y1="827.5" x2="65.7" y2="827.5" stroke="#1414c8" stroke-width="2"/><line x1="51.1" y1="837.2" x2="65.7" y2="837.2" stroke="#d51e1e" stroke-width="2"/><text x="72.7" y="830.8" class="l">jar 2015</text><text x="72.7" y="840.5" class="l">jar 2016</text></g></svg>
</body></html>
